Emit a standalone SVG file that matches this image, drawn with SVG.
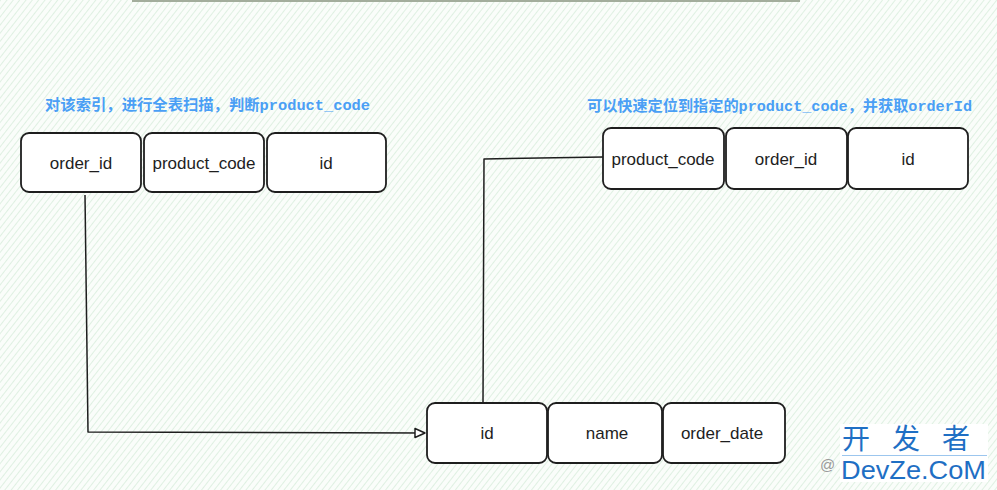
<svg xmlns="http://www.w3.org/2000/svg" width="997" height="490" viewBox="0 0 997 490">
  <defs>
    <pattern id="hatch" width="5" height="5" patternUnits="userSpaceOnUse" patternTransform="rotate(38)">
      <rect width="5" height="5" fill="#fafdfa"/>
      <line x1="0" y1="0" x2="0" y2="5" stroke="#d6ecda" stroke-width="1.5"/>
    </pattern>
    <marker id="arrow" viewBox="0 0 12 12" refX="11" refY="6" markerWidth="12" markerHeight="12" markerUnits="userSpaceOnUse" orient="auto">
      <path d="M1,1.5 L11,6 L1,10.5 Z" fill="#ffffff" stroke="#1e1e1e" stroke-width="1.5" stroke-linejoin="round"/>
    </marker>
    <style>
      .box { fill: #ffffff; stroke: #1e1e1e; stroke-width: 1.8; }
      .lbl { font-family: "Liberation Sans", "DejaVu Sans", sans-serif; font-size: 17px; fill: #1e1e1e; text-anchor: middle; dominant-baseline: central; }
      .note { font-family: "Noto Sans CJK SC", "Liberation Sans", sans-serif; font-size: 15.3px; font-weight: bold; fill: #4a9ff5; }
      .mono { font-family: "Liberation Mono", "DejaVu Sans Mono", monospace; font-weight: bold; }
      .conn { fill: none; stroke: #1e1e1e; stroke-width: 1.5; stroke-linejoin: round; }
    </style>
  </defs>

  <rect width="997" height="490" fill="url(#hatch)"/>
  <line x1="132" y1="1" x2="800" y2="1" stroke="#a3ad9c" stroke-width="2"/>

  <text class="note" x="45" y="110" textLength="325" lengthAdjust="spacingAndGlyphs">对该索引，进行全表扫描，判断<tspan class="mono">product_code</tspan></text>
  <text class="note" x="587" y="111" textLength="385" lengthAdjust="spacingAndGlyphs">可以快速定位到指定的<tspan class="mono">product_code</tspan>，并获取<tspan class="mono">orderId</tspan></text>

  <g id="connectors">
    <path class="conn" d="M85,195 L88,432 L425,433" marker-end="url(#arrow)"/>
    <path class="conn" d="M483,402 L484,159 L603,157"/>
  </g>

  <g id="left-order-id">
    <rect class="box" x="21" y="133" width="120" height="59" rx="8"/>
    <text class="lbl" x="81" y="163">order_id</text>
  </g>
  <g id="left-product-code">
    <rect class="box" x="144" y="133" width="120" height="59" rx="8"/>
    <text class="lbl" x="204" y="163">product_code</text>
  </g>
  <g id="left-id">
    <rect class="box" x="267" y="133" width="119" height="59" rx="8"/>
    <text class="lbl" x="326" y="163">id</text>
  </g>

  <g id="right-product-code">
    <rect class="box" x="603" y="128" width="121" height="61" rx="8"/>
    <text class="lbl" x="663" y="159">product_code</text>
  </g>
  <g id="right-order-id">
    <rect class="box" x="726" y="128" width="121" height="61" rx="8"/>
    <text class="lbl" x="786" y="159">order_id</text>
  </g>
  <g id="right-id">
    <rect class="box" x="848" y="128" width="120" height="61" rx="8"/>
    <text class="lbl" x="908" y="159">id</text>
  </g>

  <g id="bottom-id">
    <rect class="box" x="427" y="403" width="120" height="60" rx="8"/>
    <text class="lbl" x="487" y="433">id</text>
  </g>
  <g id="bottom-name">
    <rect class="box" x="548" y="403" width="114" height="60" rx="8"/>
    <text class="lbl" x="607" y="433">name</text>
  </g>
  <g id="bottom-order-date">
    <rect class="box" x="663" y="403" width="122" height="60" rx="8"/>
    <text class="lbl" x="722" y="433">order_date</text>
  </g>

  <g id="watermark">
    <text x="820" y="470" font-family="Liberation Sans, sans-serif" font-size="15" fill="#9a9a9a">@</text>
    <rect x="840" y="424" width="148" height="58" fill="#ffffff"/>
    <text x="842" y="449" font-family="Noto Sans CJK SC, sans-serif" font-size="28" fill="#1f6fc4" letter-spacing="22">开发者</text>
    <line x1="842" y1="455.5" x2="987" y2="455.5" stroke="#9cc6ee" stroke-width="1.2"/>
    <text x="841" y="479" font-family="Liberation Sans, sans-serif" font-size="25" fill="#1f6fc4" textLength="145" lengthAdjust="spacingAndGlyphs">DevZe.CoM</text>
  </g>
</svg>
